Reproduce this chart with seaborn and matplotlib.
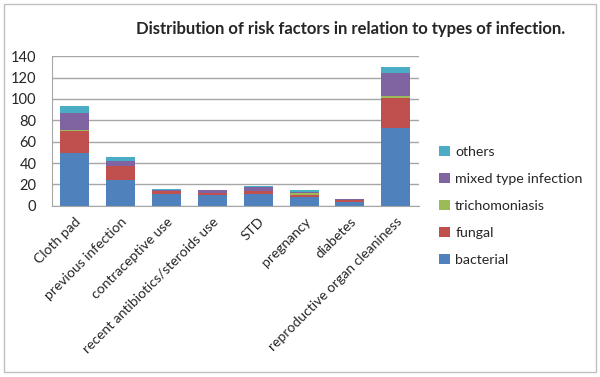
import pandas as pd
import seaborn as sns
import matplotlib.pyplot as plt
from matplotlib.patches import Rectangle

# values
factors = ["Cloth pad", "previous infection", "contraceptive use",
           "recent antibiotics/steroids use", "STD", "pregnancy", "diabetes",
           "reproductive organ cleaniness"]
bacterial = [49, 24, 11, 10, 11, 8, 4, 73]
fungal = [21, 13, 3, 2, 3, 2, 1, 28]
trichomoniasis = [1, 0, 0, 0, 0, 2, 0, 2]
mixed = [16, 5, 1, 3, 4, 1, 1, 21]
others = [6, 4, 1, 0, 1, 2, 0, 6]

series = ["bacterial", "fungal", "trichomoniasis", "mixed type infection", "others"]
colors = {"bacterial": "#4F81BD", "fungal": "#C0504D", "trichomoniasis": "#9BBB59",
          "mixed type infection": "#8064A2", "others": "#4BACC6"}

df = pd.DataFrame({"factor": factors, "bacterial": bacterial, "fungal": fungal,
                   "trichomoniasis": trichomoniasis,
                   "mixed type infection": mixed, "others": others})
# cumulative heights so each layer can be drawn over the next one
cum = df[series].cumsum(axis=1)
cum["factor"] = df["factor"]

sns.set_style("white")
plt.rcParams["font.family"] = ["Lato", "DejaVu Sans"]

fig = plt.figure(figsize=(6, 3.77), dpi=100)
ax = fig.add_axes([0.086, 0.454, 0.612, 0.397])

# draw from the top of the stack down
for s in reversed(series):
    sns.barplot(data=cum, x="factor", y=s, color=colors[s], label=s,
                width=0.63, ax=ax, saturation=1, edgecolor="none")

ax.set_ylim(0, 140)
ax.set_yticks(range(0, 141, 20))
ax.yaxis.grid(True, color="#a6a6a6", linewidth=1)
ax.set_axisbelow(True)
ax.set_xlabel("")
ax.set_ylabel("")
for side in ["top", "right"]:
    ax.spines[side].set_visible(False)
ax.spines["left"].set_color("#a6a6a6")
ax.spines["bottom"].set_color("#a6a6a6")
ax.tick_params(axis="y", labelsize=10.5, length=0, pad=11)
ax.tick_params(axis="x", labelsize=10, length=0, pad=7)
plt.setp(ax.get_xticklabels(), rotation=45, ha="right", rotation_mode="anchor")

ax.legend(loc="center left", bbox_to_anchor=(1.02, 0.0), frameon=False,
          fontsize=10.2, handlelength=0.75, handleheight=0.75, handletextpad=0.4,
          labelspacing=1.05)

fig.text(0.585, 0.924, "Distribution of risk factors in relation to types of infection.",
         ha="center", va="center", fontsize=12, fontweight="bold")

fig.patches.append(Rectangle((0.006, 0.012), 0.988, 0.978, transform=fig.transFigure,
                             fill=False, edgecolor="#bfbfbf", linewidth=1))

fig.savefig("out.png", dpi=100)
